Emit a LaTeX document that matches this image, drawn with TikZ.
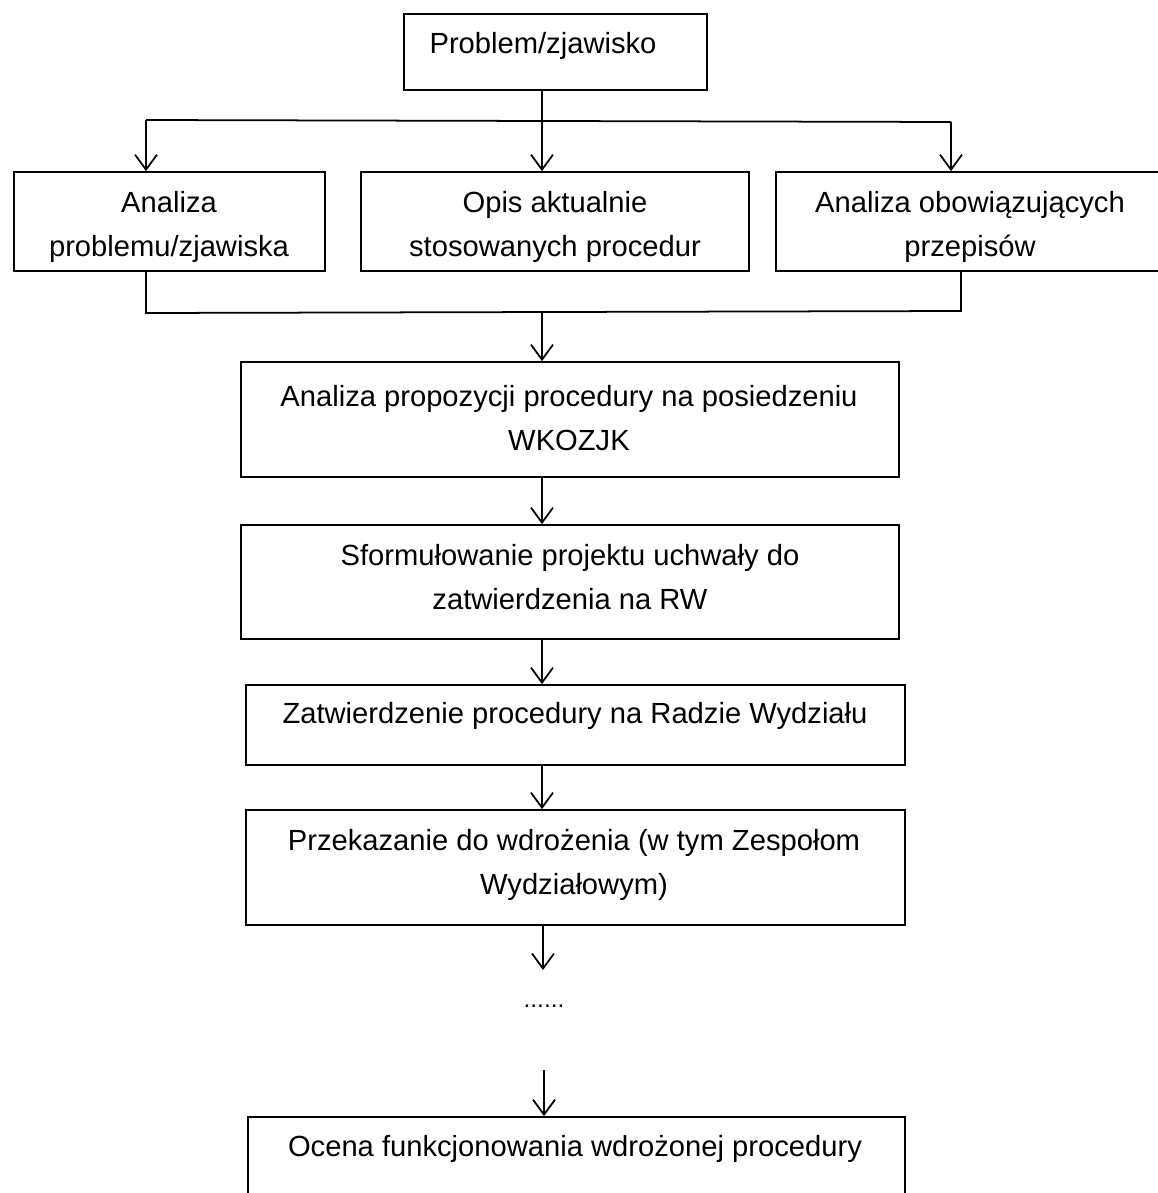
\documentclass[tikz,border=0pt]{standalone}
\usepackage{fontspec}
\setmainfont{Liberation Sans}
\usetikzlibrary{arrows.meta, calc}

\tikzset{
    box/.style={rectangle,draw,line width=1pt,inner sep=0pt},
    txt/.style={font=\fontsize{16.6}{25}\selectfont,align=center,inner sep=0pt},
    arr/.style={line width=1pt,-{Straight Barb[length=0.3cm,width=0.44cm]}}
}

\begin{document}
\begin{tikzpicture}[x=0.02cm,y=-0.02cm]
    \clip (0,0) rectangle (1158,1193);
    \fill[white] (0,0) rectangle (1158,1193);
    % boxes
    \node[box,minimum width=6.06cm,minimum height=1.52cm] (problem) at (555.5,52) {};
    \node[box,minimum width=6.22cm,minimum height=1.98cm] (analiza) at (169.5,221.5) {};
    \node[box,minimum width=7.76cm,minimum height=1.98cm] (opis) at (555,221.5) {};
    \node[box,minimum width=7.88cm,minimum height=1.98cm] (przepisy) at (973,221.5) {};
    \node[box,minimum width=13.16cm,minimum height=2.3cm] (wkozjk) at (570,419.5) {};
    \node[box,minimum width=13.16cm,minimum height=2.28cm] (uchwala) at (570,582) {};
    \node[box,minimum width=13.18cm,minimum height=1.6cm] (rada) at (575.5,725) {};
    \node[box,minimum width=13.18cm,minimum height=2.3cm] (wdrozenie) at (575.5,867.5) {};
    \node[box,minimum width=13.14cm,minimum height=1.86cm] (ocena) at (576.5,1163.5) {};
    % texts
    \node[txt] (tproblem) at (543,46) {Problem/zjawisko};
    \node[txt] (tanaliza) at (169,227) {Analiza\\problemu/zjawiska};
    \node[txt] (topis) at (555,227) {Opis aktualnie\\stosowanych procedur};
    \node[txt] (tprzepisy) at (970,227) {Analiza obowiązujących\\przepisów};
    \node[txt] (twkozjk) at (569,418) {Analiza propozycji procedury na posiedzeniu\\WKOZJK};
    \node[txt] (tuchwala) at (570,577) {Sformułowanie projektu uchwały do\\zatwierdzenia na RW};
    \node[txt] (trada) at (575,716) {Zatwierdzenie procedury na Radzie Wydziału};
    \node[txt] (twdrozenie) at (574,865) {Przekazanie do wdrożenia (w tym Zespołom\\Wydziałowym)};
    \node[txt,font=\fontsize{14}{16}\selectfont] (dots) at (544,1006) {......};
    \node[txt] (tocena) at (575,1149) {Ocena funkcjonowania wdrożonej procedury};
    % fork and join points
    \coordinate (split) at (542,120);
    \coordinate (forkL) at (146,120);
    \coordinate (forkR) at (951,122);
    \coordinate (joinL) at (146,313);
    \coordinate (joinR) at (961,311);
    \coordinate (join) at (542,312);
    \coordinate (gapA) at (543,970);
    \coordinate (gapB) at (544,1070);
    % connectors
    \draw[line width=1pt] (problem.south -| split) -- (split);
    \draw[line width=1pt] (forkL) -- (forkR);
    \draw[arr] (forkL) -- (analiza.north -| forkL);
    \draw[arr] (split) -- (opis.north -| split);
    \draw[arr] (forkR) -- (przepisy.north -| forkR);
    \draw[line width=1pt] (analiza.south -| joinL) -- (joinL) -- (joinR) -- (przepisy.south -| joinR);
    \draw[arr] (join) -- (wkozjk.north -| join);
    \draw[arr] (wkozjk.south -| join) -- (uchwala.north -| join);
    \draw[arr] (uchwala.south -| join) -- (rada.north -| join);
    \draw[arr] (rada.south -| join) -- (wdrozenie.north -| join);
    \draw[arr] (wdrozenie.south -| gapA) -- (gapA);
    \draw[arr] (gapB) -- (ocena.north -| gapB);
\end{tikzpicture}
\end{document}
